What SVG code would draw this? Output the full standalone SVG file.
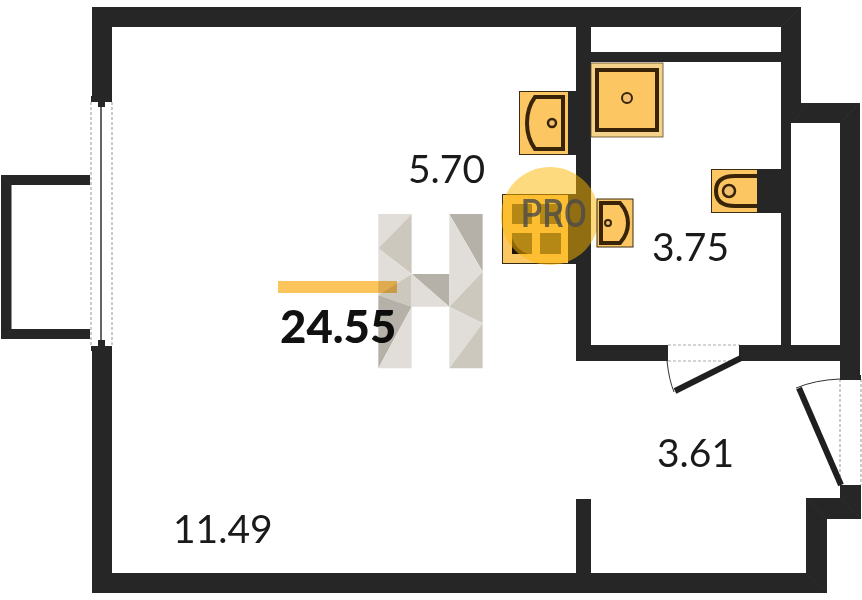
<svg xmlns="http://www.w3.org/2000/svg" width="862" height="600" viewBox="0 0 862 600">
<style>
.w{fill:#262626}
.fx{fill:#fcc763;stroke:#3a2c12;stroke-width:1}
.ol{fill:none;stroke:#3a2408;stroke-width:4}
.dash{fill:none;stroke:#aaa;stroke-width:1.2;stroke-dasharray:3 2}
.t{font-family:Lato,"Open Sans",sans-serif;font-size:39px;fill:#1a1a1a}
.l{fill:#e1ded9}.m{fill:#cdc8be}.d{fill:#b6b1a8}
.mit{fill:none;stroke:#333;stroke-width:.6}
</style>
<rect width="862" height="600" fill="#fff"/>
<g id="walls">
<path class="w" d="M92 7H801V103H860V379H840V123H781V27H112V97H92Z"/>
<rect class="w" x="591" y="52" width="190" height="10"/>
<path class="w" d="M576 27H591V345H666V361H576Z"/>
<rect class="w" x="781" y="123" width="10" height="225"/>
<rect class="w" x="745" y="345" width="96" height="16"/>
<path class="w" d="M92 351H112V573H806V498H840V485H861V519H827V593H92Z"/>
<rect class="w" x="576" y="499" width="15" height="75"/>
<path class="w" d="M1 175H90V185H11.500V329H90V339H1Z"/>
<path class="mit" d="M782 26L800 8M792 122L809 104M841 122L859 104M807 574L826 592M807 499L826 518M841 499L860 518M2 338L11 330M2 176L11 184"/>
</g>
<g id="window">
<path class="dash" d="M91 102V345M112 102V345"/>
<path d="M101 100V350" stroke="#333" stroke-width="1.500" fill="none"/>
<path class="w" d="M91 96H112V102H105V107H98V102H91ZM91 351H112V346H105V340H98V346H91Z"/>
</g>
<g id="door-inner">
<path class="dash" d="M668 345H740M668 361H740"/>
<path class="w" d="M662 345H668V361H662ZM739 345H747V361H739Z"/>
<path d="M667 361Q669 380 674 392" fill="none" stroke="#333" stroke-width="1"/>
<path d="M741 358L675 391" stroke="#1f1f1f" stroke-width="6" fill="none"/>
</g>
<g id="door-entry">
<path class="dash" d="M840 379V485M861 379V485"/>
<path class="w" d="M840 375H861V380H840Z"/>
<path d="M796 388Q815 380 840 379" fill="none" stroke="#333" stroke-width="1"/>
<path d="M841 485L799 388" stroke="#1f1f1f" stroke-width="6" fill="none"/>
</g>
<g id="basin-left">
<rect class="fx" x="519.500" y="91.500" width="56" height="63"/>
<rect class="w" x="568" y="91" width="8" height="64"/>
<path class="ol" d="M563 97V149H535Q527 138 527 123Q527 108 535 97Z"/>
<circle cx="552" cy="123" r="4" fill="#f0c070" stroke="#3a2408" stroke-width="2.500"/>
</g>
<g id="shower">
<rect x="591" y="63" width="72" height="74" fill="#f4d28a" stroke="#5a4520" stroke-width=".8"/>
<rect x="597" y="70" width="60" height="60" fill="#fcc763" stroke="#3a2408" stroke-width="4"/>
<circle cx="627" cy="98" r="5" fill="#f0c070" stroke="#3a2408" stroke-width="2"/>
</g>
<g id="toilet">
<rect class="fx" x="711.500" y="169.500" width="46" height="43"/>
<rect class="w" x="757" y="169" width="24" height="44"/>
<path class="ol" d="M757 176H735Q716 176 716 191Q716 206 735 206H757"/>
<circle cx="729" cy="191" r="6" fill="#f0c070" stroke="#3a2408" stroke-width="2.500"/>
</g>
<g id="area-main-label"><text class="t" x="408" y="183">5.70</text></g>
<g id="area-bath-label"><text class="t" x="652" y="261">3.75</text></g>
<g id="area-hall-label"><text class="t" x="657" y="467">3.61</text></g>
<g id="area-kitchen-label"><text class="t" x="173" y="543">11.49</text></g>
<g id="total-area">
<text x="280" y="343" font-family="Lato,sans-serif" font-weight="900" font-size="45.500" fill="#111">24.55</text>
</g>
<g id="logo-bar"><rect x="278" y="281" width="119" height="12" fill="#fcc55c"/></g>
<g id="watermark-h" transform="translate(270 200) scale(.3333)" style="mix-blend-mode:multiply">
<path class="l" d="M325 42H425L325 145Z"/>
<path class="m" d="M425 42V222L325 145Z"/>
<path class="l" d="M325 145L425 222L325 285Z"/>
<path class="m" d="M425 222V320L325 285Z"/>
<path class="d" d="M325 285L425 320L325 505Z"/>
<path class="l" d="M425 320V505H325Z"/>
<path class="d" d="M425 222H538V320Z"/>
<path class="l" d="M425 222L538 320H425Z"/>
<path class="d" d="M538 42H638V215Z"/>
<path class="l" d="M538 42L638 215L538 320Z"/>
<path class="m" d="M638 215V370L538 320Z"/>
<path class="l" d="M538 320L638 370L538 505Z"/>
<path class="m" d="M638 370V505H538Z"/>
</g>
<g id="washer">
<rect class="fx" x="502.500" y="194.500" width="73" height="69"/>
<rect class="w" x="568" y="194" width="8" height="70"/>
<rect x="512" y="204" width="20" height="20" fill="#6d5a2c"/>
<rect x="540" y="204" width="21" height="20" fill="#6d5a2c"/>
<rect x="512" y="233" width="20" height="21" fill="#6d5a2c"/>
<rect x="540" y="233" width="21" height="21" fill="#6d5a2c"/>
<path d="M512 238V254H528Q516 250 512 238Z" fill="#1c1408"/>
</g>
<g id="pro-badge">
<circle cx="550" cy="216" r="49" fill="#fdb600" opacity=".5"/>
<text x="521" y="227" font-family="Roboto,sans-serif" font-size="38" font-weight="500" textLength="66" lengthAdjust="spacingAndGlyphs" fill="#4a4a4a" opacity=".8">PRO</text>
</g>
<g id="basin-small">
<rect class="fx" x="597" y="199" width="36" height="48"/>
<path class="ol" d="M601 203V243H620Q628 234 628 223Q628 212 620 203Z"/>
<circle cx="608" cy="223" r="3" fill="#f0c070" stroke="#3a2408" stroke-width="2"/>
</g>
</svg>
